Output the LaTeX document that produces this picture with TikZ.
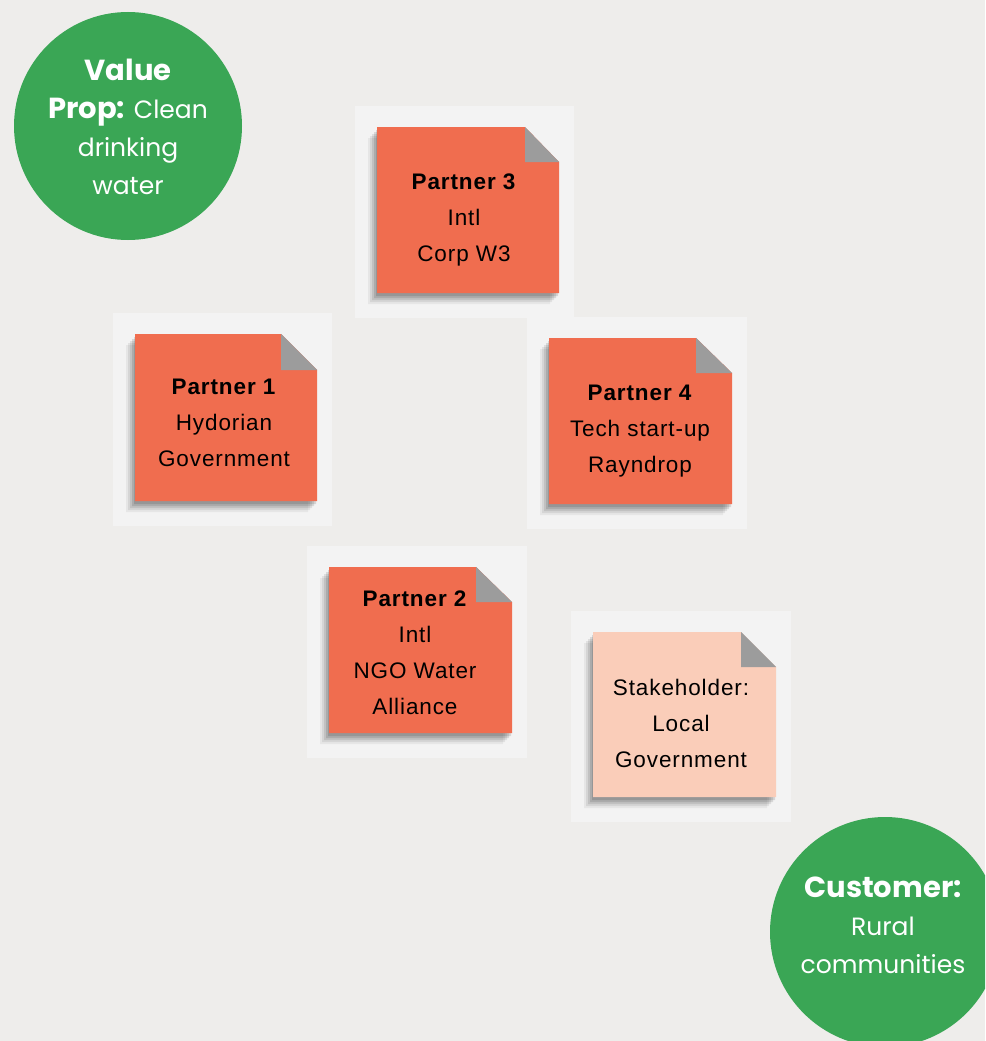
\documentclass[tikz,border=0pt]{standalone}
\usepackage{fontspec}
\setmainfont{Poppins}
\newfontfamily\handfont[LetterSpace=4]{Liberation Sans}
\definecolor{bgcol}{HTML}{EEEDEB}
\definecolor{padcol}{HTML}{F3F3F3}
\definecolor{notecol}{HTML}{F06D4F}
\definecolor{peachcol}{HTML}{FACDB9}
\definecolor{foldcol}{HTML}{9C9C9C}
\definecolor{greencol}{HTML}{3AA655}
\newcommand\bigb[1]{{\fontsize{29}{38}\selectfont\bfseries #1}}
\tikzset{
  circletext/.style={text=white, align=center, font=\fontsize{25}{38}\selectfont},
  notetext/.style={text=black, align=center, font=\handfont\fontsize{22.5}{36}\selectfont},
  greendisc/.style={fill=greencol},
}
% name, left, top, right, bottom, foldx, foldy, colour
\newcommand\stickynote[8]{%
  \fill[padcol] (#2-22,#3-21) rectangle (#4+15,#5+25);
  \foreach \dx/\dy/\op in {9/11/0.05, 7/9/0.07, 5/7/0.09, 3/5/0.11, 1/3/0.12}{
    \fill[black, opacity=\op] (#2-\dx,#3+\dy) -- (#6-\dx,#3+\dy) -- (#4-\dx,#7+\dy) -- (#4-\dx,#5+\dy) -- (#2-\dx,#5+\dy) -- cycle;
  }
  \fill[#8] (#2,#3) -- (#6,#3) -- (#4,#7) -- (#4,#5) -- (#2,#5) -- cycle;
  \fill[foldcol] (#6,#3) -- (#4,#7) -- (#6,#7) -- cycle;
  \coordinate (#1-c) at ({(#2+#4)/2},{(#3+#5)/2});
}
\begin{document}
\begin{tikzpicture}[x=1pt,y=-1pt]
\useasboundingbox (0,0) rectangle (985,1041);
\clip (0,0) rectangle (985,1041);
\fill[bgcol] (0,0) rectangle (985,1041);

% circles
\fill[greendisc] (128,126) circle (114);
\node[circletext] (vp) at (128,127) {\bigb{Value}\\\bigb{Prop:} Clean\\drinking\\water};
\fill[greendisc] (885,932) circle (115);
\node[circletext] (cust) at (883,925) {\bigb{Customer:}\\Rural\\communities};

% notes
\stickynote{p3}{377}{127}{559}{293}{525}{162}{notecol}
\node[notetext] (p3t) at (464,220) {\textbf{Partner 3}\\Intl\\Corp W3};

\stickynote{p1}{135}{334}{317}{501}{281}{370}{notecol}
\node[notetext] (p1t) at (224,423) {\textbf{Partner 1}\\Hydorian\\Government};

\stickynote{p4}{549}{338}{732}{504}{696}{373}{notecol}
\node[notetext] (p4t) at (640,431) {\textbf{Partner 4}\\Tech start-up\\Rayndrop};

\stickynote{p2}{329}{567}{512}{733}{476}{602}{notecol}
\node[notetext] (p2t) at (415,653) {\textbf{Partner 2}\\Intl\\NGO Water\\Alliance};

\stickynote{sh}{593}{632}{776}{797}{741}{667}{peachcol}
\node[notetext] (sht) at (681,723) {Stakeholder:\\Local\\Government};
\end{tikzpicture}
\end{document}
